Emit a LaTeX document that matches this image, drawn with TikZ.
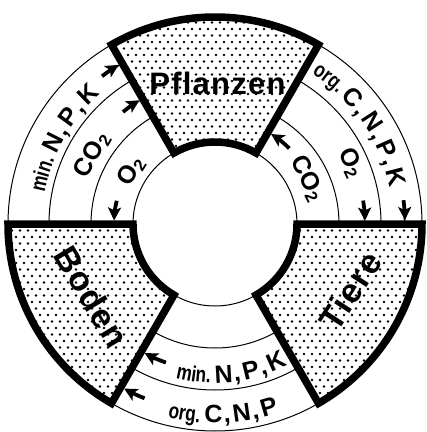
\documentclass[tikz,border=0pt]{standalone}
\usepackage{fontspec}
\setmainfont{Liberation Sans}
\newfontfamily\ringfont[LetterSpace=4]{Liberation Sans}
\newfontfamily\narrowfont[FakeStretch=0.78]{Liberation Sans}
\usetikzlibrary{arrows.meta,patterns,decorations.text}

\pgfdeclarepatternformonly{stipple}{\pgfqpoint{-1.5pt}{-1.5pt}}{\pgfqpoint{5.5pt}{8pt}}{\pgfqpoint{8pt}{13pt}}{%
  \pgfpathcircle{\pgfqpoint{0pt}{0pt}}{1.35pt}%
  \pgfpathcircle{\pgfqpoint{4pt}{6.5pt}}{1.35pt}%
  \pgfusepath{fill}}

\newcommand\capsize{\bfseries\fontsize{25}{27}\selectfont}
\newcommand\abbrsize{\narrowfont\bfseries\fontsize{22}{24}\selectfont}
\newcommand\gastwo{{\fontsize{17}{17}\selectfont\raisebox{-3pt}{2}}}

\begin{document}
\begin{tikzpicture}[x=1pt,y=1pt,
  >={Stealth[length=13pt,width=13pt,inset=3pt]},
  ring/.style={line width=1pt},
  sector/.style={draw,line width=7.5pt,line join=miter,pattern=stipple,preaction={fill=white}},
  flow/.style={->,line width=3.8pt},
  gas/.style={font=\capsize,inner sep=0pt},
  part/.style={font=\ringfont\bfseries\fontsize{34}{36}\selectfont,inner sep=0pt},
  arctext/.style={decorate,decoration={text along path,text align=center,text={#1}}}
]
  \useasboundingbox (-215,-208) rectangle (212,224);

  \foreach \r in {82,124,166,207}
    \draw[ring] (0,0) circle[radius=\r];

  \path[sector] (60:82) arc[start angle=60,end angle=120,radius=82]
    -- (120:207) arc[start angle=120,end angle=60,radius=207] -- cycle;
  \path[sector] (180:82) arc[start angle=180,end angle=240,radius=82]
    -- (240:207) arc[start angle=240,end angle=180,radius=207] -- cycle;
  \path[sector] (300:82) arc[start angle=300,end angle=360,radius=82]
    -- (360:207) arc[start angle=360,end angle=300,radius=207] -- cycle;

  \node[part,font=\ringfont\bfseries\fontsize{31}{33}\selectfont] (pflanzen) at (89:141) {Pflanzen};
  \node[part,rotate=-59] (boden) at (210.5:143) {Boden};
  \node[part,rotate=57] (tiere) at (333.7:151) {Tiere};

  \path[arctext={|\abbrsize|min. |\capsize|N{\kern1.5pt,\kern3pt}P{\kern1.5pt,\kern3pt}K}]
    (176:173) arc[start angle=176,end angle=125,radius=173];
  \path[arctext={|\abbrsize|org. |\capsize|C{\kern1.5pt,\kern3pt}N{\kern1.5pt,\kern3pt}P{\kern1.5pt,\kern3pt}K}]
    (62:179) arc[start angle=62,end angle=7,radius=179];
  \path[arctext={|\abbrsize|min. |\capsize|N{\kern1.5pt,\kern3pt}P{\kern1.5pt,\kern3pt}K}]
    (249:159) arc[start angle=249,end angle=304,radius=159];
  \path[arctext={|\abbrsize|org. |\capsize|C{\kern1.5pt,\kern3pt}N{\kern1.5pt,\kern3pt}P}]
    (247:199) arc[start angle=247,end angle=298,radius=199];

  \node[gas,rotate=60.7] (co2left) at (150.7:141) {CO\gastwo};
  \node[gas,rotate=58] (o2left) at (148:99) {O\gastwo};
  \node[gas,rotate=-65.5] (o2right) at (24.5:149) {O\gastwo};
  \node[gas,rotate=-63.4] (co2right) at (26.6:103) {CO\gastwo};

  \draw[flow] (127.4:186) arc[start angle=127.4,end angle=121.2,radius=186];
  \draw[flow] (129.4:145) arc[start angle=129.4,end angle=121.4,radius=145];
  \draw[flow] (166.7:101) arc[start angle=166.7,end angle=178,radius=101];
  \draw[flow] (7.2:190) arc[start angle=7.2,end angle=1.2,radius=190];
  \draw[flow] (9:150) arc[start angle=9,end angle=1.3,radius=150];
  \draw[flow] (45.5:106) arc[start angle=45.5,end angle=58.1,radius=106];
  \draw[flow] (250.5:147) arc[start angle=250.5,end angle=241.4,radius=147];
  \draw[flow] (248:188) arc[start angle=248,end angle=241.1,radius=188];
\end{tikzpicture}
\end{document}
